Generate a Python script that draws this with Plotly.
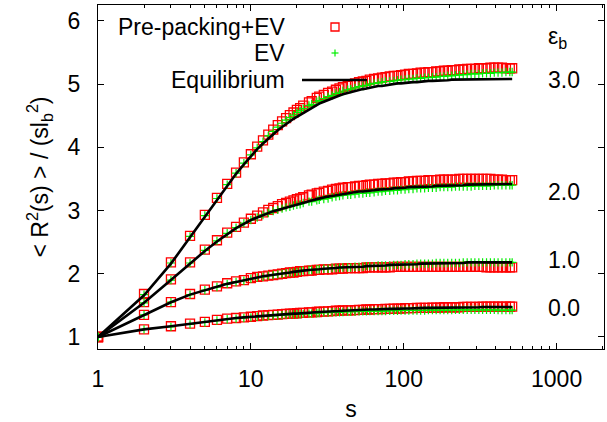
import plotly.graph_objects as go

# contour distance s (shared by all series)
s = [1, 2, 3, 4, 5, 6, 7, 8, 9, 10,
     11, 12, 13, 14, 15, 16, 17, 18, 19, 20,
     21, 22, 24, 25, 27, 28, 30, 32, 34, 36,
     38, 40, 43, 45, 48, 51, 54, 57, 60, 64,
     68, 72, 76, 81, 86, 91, 96, 102, 108, 115,
     122, 129, 137, 145, 154, 163, 173, 183, 194, 206,
     218, 231, 245, 260, 276, 292, 310, 328, 348, 369,
     391, 414, 439, 466, 494, 512]

# eps_b = 3.0
prepack_eps3 = [1.00, 1.68, 2.18, 2.60, 2.93, 3.20, 3.42, 3.60, 3.76, 3.89,
                4.01, 4.11, 4.20, 4.28, 4.35, 4.41, 4.46, 4.51, 4.55, 4.59,
                4.62, 4.66, 4.71, 4.73, 4.78, 4.80, 4.83, 4.86, 4.88, 4.91,
                4.93, 4.95, 4.97, 4.99, 5.01, 5.03, 5.04, 5.05, 5.07, 5.08,
                5.09, 5.10, 5.11, 5.12, 5.13, 5.13, 5.14, 5.15, 5.16, 5.16,
                5.17, 5.18, 5.18, 5.19, 5.19, 5.20, 5.20, 5.21, 5.21, 5.22,
                5.22, 5.23, 5.23, 5.24, 5.24, 5.24, 5.25, 5.25, 5.25, 5.26,
                5.26, 5.26, 5.26, 5.25, 5.25, 5.25]
ev_eps3 = [1.00, 1.67, 2.17, 2.59, 2.92, 3.19, 3.41, 3.59, 3.75, 3.88,
           3.99, 4.09, 4.18, 4.25, 4.32, 4.38, 4.43, 4.47, 4.51, 4.55,
           4.58, 4.61, 4.66, 4.68, 4.72, 4.74, 4.77, 4.80, 4.82, 4.85,
           4.87, 4.89, 4.91, 4.92, 4.94, 4.96, 4.97, 4.98, 5.00, 5.01,
           5.02, 5.03, 5.04, 5.04, 5.05, 5.06, 5.07, 5.07, 5.08, 5.08,
           5.09, 5.09, 5.10, 5.10, 5.11, 5.11, 5.12, 5.12, 5.13, 5.13,
           5.14, 5.14, 5.15, 5.15, 5.16, 5.16, 5.16, 5.17, 5.17, 5.17,
           5.18, 5.18, 5.18, 5.19, 5.19, 5.19]
equil_eps3 = [1.00, 1.66, 2.16, 2.58, 2.91, 3.18, 3.40, 3.58, 3.73, 3.86,
              3.97, 4.06, 4.14, 4.21, 4.27, 4.32, 4.37, 4.41, 4.45, 4.48,
              4.51, 4.55, 4.60, 4.62, 4.67, 4.69, 4.72, 4.75, 4.77, 4.80,
              4.82, 4.84, 4.86, 4.88, 4.89, 4.91, 4.92, 4.93, 4.94, 4.96,
              4.97, 4.97, 4.98, 4.99, 5.00, 5.01, 5.01, 5.02, 5.02, 5.03,
              5.03, 5.04, 5.04, 5.05, 5.05, 5.05, 5.06, 5.06, 5.06, 5.07,
              5.07, 5.07, 5.07, 5.07, 5.08, 5.08, 5.08, 5.08, 5.08, 5.08,
              5.08, 5.08, 5.08, 5.08, 5.08, 5.08]

# eps_b = 2.0
prepack_eps2 = [1.00, 1.55, 1.91, 2.18, 2.38, 2.53, 2.65, 2.74, 2.81, 2.87,
                2.92, 2.97, 3.01, 3.04, 3.07, 3.10, 3.12, 3.14, 3.16, 3.18,
                3.19, 3.21, 3.24, 3.25, 3.27, 3.28, 3.30, 3.31, 3.33, 3.34,
                3.35, 3.36, 3.37, 3.37, 3.38, 3.39, 3.39, 3.40, 3.41, 3.41,
                3.42, 3.42, 3.43, 3.43, 3.44, 3.44, 3.45, 3.45, 3.46, 3.46,
                3.47, 3.47, 3.47, 3.48, 3.48, 3.48, 3.49, 3.49, 3.49, 3.49,
                3.49, 3.50, 3.50, 3.50, 3.50, 3.50, 3.50, 3.50, 3.50, 3.50,
                3.49, 3.49, 3.49, 3.48, 3.48, 3.48]
ev_eps2 = [1.00, 1.54, 1.90, 2.17, 2.37, 2.52, 2.64, 2.73, 2.80, 2.85,
           2.89, 2.93, 2.96, 2.99, 3.01, 3.03, 3.05, 3.06, 3.08, 3.09,
           3.10, 3.12, 3.14, 3.14, 3.16, 3.17, 3.18, 3.19, 3.21, 3.22,
           3.23, 3.24, 3.25, 3.25, 3.26, 3.27, 3.27, 3.28, 3.28, 3.29,
           3.30, 3.30, 3.31, 3.31, 3.32, 3.32, 3.33, 3.33, 3.34, 3.34,
           3.35, 3.35, 3.35, 3.36, 3.36, 3.36, 3.37, 3.37, 3.37, 3.37,
           3.38, 3.38, 3.38, 3.38, 3.38, 3.39, 3.39, 3.39, 3.39, 3.39,
           3.40, 3.40, 3.40, 3.40, 3.40, 3.40]
equil_eps2 = [1.00, 1.54, 1.90, 2.16, 2.36, 2.51, 2.63, 2.72, 2.79, 2.85,
              2.89, 2.93, 2.96, 2.99, 3.01, 3.03, 3.05, 3.07, 3.08, 3.10,
              3.11, 3.12, 3.15, 3.16, 3.18, 3.19, 3.20, 3.22, 3.23, 3.24,
              3.25, 3.26, 3.27, 3.28, 3.29, 3.30, 3.30, 3.31, 3.31, 3.32,
              3.33, 3.33, 3.34, 3.34, 3.35, 3.35, 3.36, 3.36, 3.37, 3.37,
              3.37, 3.38, 3.38, 3.38, 3.38, 3.39, 3.39, 3.39, 3.40, 3.40,
              3.40, 3.40, 3.40, 3.41, 3.41, 3.41, 3.41, 3.41, 3.41, 3.42,
              3.42, 3.42, 3.42, 3.42, 3.42, 3.42]

# eps_b = 1.0
prepack_eps1 = [1.00, 1.35, 1.55, 1.68, 1.75, 1.80, 1.85, 1.88, 1.90, 1.93,
                1.95, 1.96, 1.97, 1.98, 1.99, 2.00, 2.01, 2.02, 2.02, 2.03,
                2.04, 2.04, 2.05, 2.05, 2.06, 2.06, 2.07, 2.07, 2.07, 2.08,
                2.08, 2.08, 2.09, 2.09, 2.09, 2.09, 2.09, 2.10, 2.10, 2.10,
                2.10, 2.10, 2.10, 2.10, 2.11, 2.11, 2.11, 2.11, 2.11, 2.11,
                2.11, 2.11, 2.11, 2.11, 2.11, 2.11, 2.11, 2.11, 2.11, 2.11,
                2.11, 2.11, 2.11, 2.11, 2.11, 2.11, 2.11, 2.11, 2.10, 2.10,
                2.10, 2.10, 2.10, 2.10, 2.10, 2.10]
ev_eps1 = [1.00, 1.35, 1.55, 1.67, 1.74, 1.79, 1.84, 1.87, 1.89, 1.92,
           1.94, 1.95, 1.97, 1.98, 1.99, 2.00, 2.01, 2.02, 2.02, 2.03,
           2.04, 2.05, 2.06, 2.06, 2.07, 2.07, 2.08, 2.08, 2.09, 2.09,
           2.09, 2.10, 2.10, 2.10, 2.11, 2.11, 2.11, 2.12, 2.12, 2.12,
           2.13, 2.13, 2.13, 2.13, 2.14, 2.14, 2.14, 2.15, 2.15, 2.15,
           2.16, 2.16, 2.16, 2.16, 2.16, 2.17, 2.17, 2.17, 2.17, 2.17,
           2.17, 2.17, 2.18, 2.18, 2.18, 2.18, 2.18, 2.18, 2.18, 2.18,
           2.18, 2.18, 2.18, 2.18, 2.18, 2.18]
equil_eps1 = [1.00, 1.35, 1.55, 1.67, 1.74, 1.80, 1.84, 1.87, 1.90, 1.92,
              1.94, 1.96, 1.97, 1.98, 1.99, 2.00, 2.01, 2.02, 2.03, 2.04,
              2.04, 2.05, 2.06, 2.06, 2.07, 2.07, 2.08, 2.08, 2.09, 2.09,
              2.10, 2.10, 2.10, 2.10, 2.11, 2.11, 2.11, 2.12, 2.12, 2.12,
              2.13, 2.13, 2.13, 2.14, 2.14, 2.14, 2.14, 2.15, 2.15, 2.15,
              2.15, 2.16, 2.16, 2.16, 2.16, 2.16, 2.17, 2.17, 2.17, 2.17,
              2.17, 2.17, 2.17, 2.18, 2.18, 2.18, 2.18, 2.18, 2.18, 2.18,
              2.18, 2.18, 2.18, 2.18, 2.18, 2.18]

# eps_b = 0.0
prepack_eps0 = [1.00, 1.12, 1.17, 1.21, 1.24, 1.27, 1.29, 1.30, 1.31, 1.32,
                1.33, 1.34, 1.345, 1.35, 1.355, 1.36, 1.365, 1.37, 1.37, 1.375,
                1.38, 1.38, 1.39, 1.39, 1.395, 1.40, 1.40, 1.405, 1.41, 1.415,
                1.415, 1.42, 1.42, 1.42, 1.425, 1.43, 1.43, 1.435, 1.435, 1.44,
                1.44, 1.44, 1.445, 1.445, 1.45, 1.45, 1.45, 1.455, 1.455, 1.455,
                1.46, 1.46, 1.46, 1.46, 1.465, 1.465, 1.465, 1.47, 1.47, 1.47,
                1.47, 1.47, 1.475, 1.475, 1.475, 1.475, 1.475, 1.48, 1.48, 1.48,
                1.48, 1.48, 1.48, 1.48, 1.48, 1.48]
ev_eps0 = [1.00, 1.12, 1.16, 1.20, 1.23, 1.26, 1.28, 1.29, 1.30, 1.31,
           1.32, 1.325, 1.33, 1.335, 1.34, 1.345, 1.35, 1.355, 1.36, 1.36,
           1.36, 1.365, 1.37, 1.37, 1.375, 1.38, 1.385, 1.385, 1.39, 1.39,
           1.39, 1.395, 1.40, 1.40, 1.40, 1.405, 1.405, 1.405, 1.41, 1.41,
           1.41, 1.41, 1.41, 1.415, 1.415, 1.415, 1.42, 1.42, 1.42, 1.42,
           1.42, 1.42, 1.42, 1.425, 1.425, 1.425, 1.425, 1.425, 1.425, 1.425,
           1.43, 1.43, 1.43, 1.43, 1.43, 1.43, 1.43, 1.43, 1.43, 1.43,
           1.43, 1.425, 1.425, 1.425, 1.425, 1.425]
equil_eps0 = [1.00, 1.12, 1.17, 1.21, 1.24, 1.26, 1.28, 1.30, 1.31, 1.32,
              1.33, 1.335, 1.34, 1.345, 1.35, 1.355, 1.36, 1.365, 1.37, 1.37,
              1.375, 1.38, 1.385, 1.39, 1.39, 1.395, 1.40, 1.40, 1.405, 1.41,
              1.41, 1.415, 1.42, 1.42, 1.425, 1.425, 1.43, 1.43, 1.435, 1.435,
              1.44, 1.44, 1.44, 1.445, 1.445, 1.45, 1.45, 1.45, 1.45, 1.455,
              1.455, 1.455, 1.46, 1.46, 1.46, 1.46, 1.465, 1.465, 1.465, 1.465,
              1.47, 1.47, 1.47, 1.47, 1.47, 1.47, 1.47, 1.475, 1.475, 1.475,
              1.475, 1.475, 1.475, 1.475, 1.475, 1.475]

eps_labels = ["3.0", "2.0", "1.0", "0.0"]
eps_label_y = [5.07, 3.29, 2.22, 1.46]
legend_names = ["Pre-packing+EV", "EV", "Equilibrium"]
x_tick_vals = [1, 10, 100, 1000]
x_tick_text = ["1", "10", "100", "1000"]
y_tick_vals = [1, 2, 3, 4, 5, 6]

RED = "#ff0000"
GREEN = "#00ee00"
FONT = "Liberation Sans, Arial, Helvetica, sans-serif"
FS = 23

fig = go.Figure()
groups = [(prepack_eps3, ev_eps3, equil_eps3),
          (prepack_eps2, ev_eps2, equil_eps2),
          (prepack_eps1, ev_eps1, equil_eps1),
          (prepack_eps0, ev_eps0, equil_eps0)]

for pre, ev, eq in groups:
    fig.add_trace(go.Scatter(x=s[:len(pre)], y=pre, mode="markers", name=legend_names[0],
                             showlegend=False,
                             marker=dict(symbol="square-open", size=9, color=RED,
                                         line=dict(width=1.3, color=RED))))
for pre, ev, eq in groups:
    fig.add_trace(go.Scatter(x=s[:len(ev)], y=ev, mode="markers", name=legend_names[1],
                             showlegend=False,
                             marker=dict(symbol="cross-thin", size=6, color=GREEN,
                                         line=dict(width=1.2, color=GREEN))))
for pre, ev, eq in groups:
    fig.add_trace(go.Scatter(x=s[:len(eq)], y=eq, mode="lines", name=legend_names[2],
                             showlegend=False,
                             line=dict(color="black", width=2.6)))

# layout geometry (pixels)
W, H = 607, 422
L, R, T, B = 98, 3, 5, 73
pw, ph = W - L - R, H - T - B


def px(xp):
    return (xp - L) / pw


def py(yp):
    return (H - B - yp) / ph


annotations = []
# manual key (gnuplot style: text right-aligned, sample on right)
key_rows = [27, 53, 80]
for name, yy in zip(legend_names, key_rows):
    annotations.append(dict(xref="paper", yref="paper", x=px(287), y=py(yy),
                            xanchor="right", yanchor="middle", text=name,
                            showarrow=False, font=dict(size=FS, family=FONT, color="black")))

shapes = [
    dict(type="rect", xref="paper", yref="paper", xsizemode="pixel", ysizemode="pixel",
         xanchor=px(335), yanchor=py(key_rows[0]), x0=-4, x1=4, y0=-4, y1=4,
         line=dict(color=RED, width=1.3)),
    dict(type="line", xref="paper", yref="paper", xsizemode="pixel", ysizemode="pixel",
         xanchor=px(335), yanchor=py(key_rows[1]), x0=-3.5, x1=3.5, y0=0, y1=0,
         line=dict(color=GREEN, width=1.2)),
    dict(type="line", xref="paper", yref="paper", xsizemode="pixel", ysizemode="pixel",
         xanchor=px(335), yanchor=py(key_rows[1]), x0=0, x1=0, y0=-3.5, y1=3.5,
         line=dict(color=GREEN, width=1.2)),
    dict(type="line", xref="paper", yref="paper", x0=px(302), x1=px(367),
         y0=py(key_rows[2]), y1=py(key_rows[2]), line=dict(color="black", width=2.6)),
]

# eps_b labels on the right
annotations.append(dict(xref="paper", yref="paper", x=px(557), y=py(37),
                        text="ε<sub>b</sub>", showarrow=False, xanchor="center",
                        yanchor="middle", font=dict(size=FS, family=FONT, color="black")))
for lab, yv in zip(eps_labels, eps_label_y):
    annotations.append(dict(xref="paper", yref="y", x=px(564), y=yv, text=lab,
                            showarrow=False, xanchor="center", yanchor="middle",
                            font=dict(size=FS, family=FONT, color="black")))

fig.update_layout(
    width=W, height=H,
    margin=dict(l=L, r=R, t=T, b=B, pad=0),
    plot_bgcolor="white", paper_bgcolor="white",
    font=dict(family=FONT, size=FS, color="black"),
    showlegend=False,
    annotations=annotations,
    shapes=shapes,
)
fig.update_xaxes(
    type="log", range=[0, 3.31],
    tickmode="array", tickvals=x_tick_vals, ticktext=x_tick_text,
    ticks="inside", ticklen=6, tickwidth=1, tickcolor="black",
    minor=dict(tickmode="array",
               tickvals=[2, 3, 4, 5, 6, 7, 8, 9, 20, 30, 40, 50, 60, 70, 80, 90,
                         200, 300, 400, 500, 600, 700, 800, 900, 2000],
               ticks="inside", ticklen=3, tickwidth=1, tickcolor="black"),
    showline=True, linecolor="black", linewidth=1, mirror="ticks",
    showgrid=False, zeroline=False,
    ticklabelstandoff=9,
    title=dict(text="s", standoff=12, font=dict(size=FS, family=FONT)),
)
fig.update_yaxes(
    range=[0.81, 6.25],
    tickmode="array", tickvals=y_tick_vals,
    ticks="inside", ticklen=6, tickwidth=1, tickcolor="black",
    showline=True, linecolor="black", linewidth=1, mirror="ticks",
    showgrid=False, zeroline=False,
    ticklabelstandoff=12,
    title=dict(text="&lt; R<sup>2</sup>(s) &gt; / (sl<sub>b</sub><sup>2</sup>)",
               standoff=12, font=dict(size=FS, family=FONT)),
)

fig.write_html("out.html")
